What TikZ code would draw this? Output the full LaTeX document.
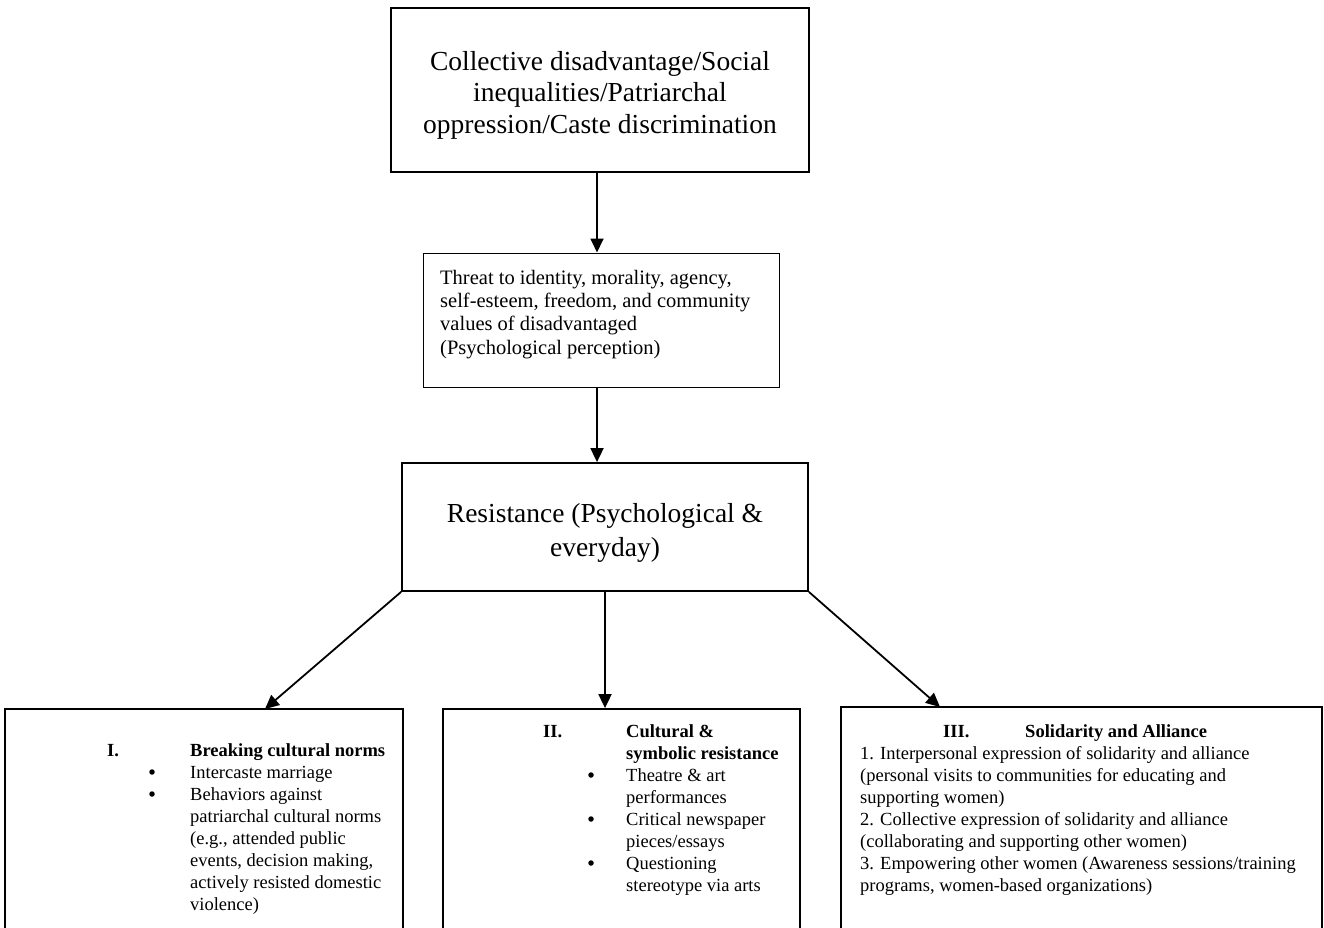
\documentclass[tikz,border=0pt]{standalone}
\usepackage{fontspec}
\setmainfont{Liberation Serif}
\usetikzlibrary{arrows.meta}
\begin{document}
\begin{tikzpicture}[x=1pt,y=-1pt,
  box/.style={draw, line width=1.8pt, inner sep=0pt},
  thinbox/.style={draw, line width=1pt, inner sep=0pt},
  arr/.style={line width=1.8pt, -{Triangle[width=13pt,length=14pt]}},
  txt/.style={anchor=base west, inner sep=0pt, align=left, font=\fontsize{18.5}{22}\selectfont},
  bul/.style={circle, fill, inner sep=0pt, minimum size=5.5pt}]
\clip (0,0) rectangle (1324,928);
% boxes
\node[box, minimum width=418pt, minimum height=164pt] (top) at (600,90) {};
\node[align=center, inner sep=0pt, font=\fontsize{27.5}{31.5}\selectfont] (toptext) at (600,95)
  {Collective disadvantage/Social\\inequalities/Patriarchal\\oppression/Caste discrimination};
\node[thinbox, minimum width=356pt, minimum height=134pt] (threat) at (601,320) {};
\node[box, minimum width=406pt, minimum height=128pt] (res) at (605,527) {};
\node[align=center, inner sep=0pt, font=\fontsize{27.5}{33.5}\selectfont] (restext) at (605,533)
  {Resistance (Psychological \&\\everyday)};
\node[box, minimum width=398pt, minimum height=251pt] (b1) at (204,834.5) {};
\node[box, minimum width=357pt, minimum height=251pt] (b2) at (621.5,834.5) {};
\node[box, minimum width=481pt, minimum height=251pt] (b3) at (1081.5,832.5) {};
% connectors
\coordinate (ax) at (597,0);
\coordinate (c1) at (265,709);
\coordinate (c3) at (940,707);
\draw[arr] (top.south -| ax) -- (threat.north -| ax);
\draw[arr] (threat.south -| ax) -- (res.north -| ax);
\draw[arr] (res.south) -- (res.south |- b2.north);
\draw[arr] (res.south west) -- (c1);
\draw[arr] (res.south east) -- (c3);
% threat text (anchor at baseline of last line)
\node[txt, font=\fontsize{20.5}{23.3}\selectfont] (tt) at (440,354) {Threat to identity, morality, agency,\\self-esteem, freedom, and community\\values of disadvantaged\\(Psychological perception)};
% box 1
\node[txt] (n1) at (107,756) {\bfseries I.};
\node[txt] (h1) at (190,756) {\bfseries Breaking cultural norms};
\node[bul] (p11) at (152,772) {};
\node[bul] (p12) at (152,794) {};
\node[txt] (l1) at (190,910) {Intercaste marriage\\Behaviors against\\patriarchal cultural norms\\(e.g., attended public\\events, decision making,\\actively resisted domestic\\violence)};
% box 2
\node[txt] (n2) at (543,737) {\bfseries II.};
\node[txt] (h2) at (626,759) {\bfseries Cultural \&\\\bfseries symbolic resistance};
\node[bul] (p21) at (591,775) {};
\node[bul] (p22) at (591,819) {};
\node[bul] (p23) at (591,863) {};
\node[txt] (l2) at (626,891) {Theatre \& art\\performances\\Critical newspaper\\pieces/essays\\Questioning\\stereotype via arts};
% box 3
\node[txt] (n3) at (943,737) {\bfseries III.};
\node[txt] (h3) at (1025,737) {\bfseries Solidarity and Alliance};
\node[txt] (l3) at (860,891) {1. Interpersonal expression of solidarity and alliance\\(personal visits to communities for educating and\\supporting women)\\2. Collective expression of solidarity and alliance\\(collaborating and supporting other women)\\3. Empowering other women (Awareness sessions/training\\programs, women-based organizations)};
\end{tikzpicture}
\end{document}
